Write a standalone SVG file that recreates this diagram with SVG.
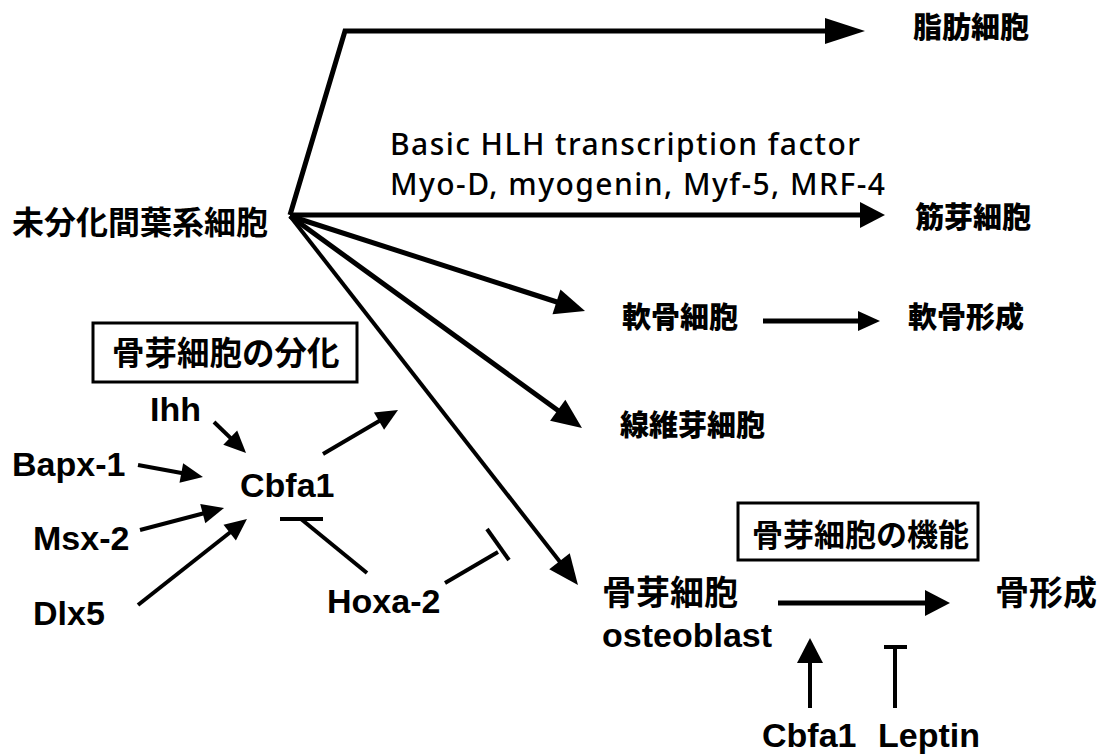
<svg xmlns="http://www.w3.org/2000/svg" width="1104" height="756" viewBox="0 0 1104 756">
<style>
.jp{font-family:"Noto Sans CJK JP","Noto Sans CJK SC",sans-serif;fill:#000}
.jb{font-weight:900}
.jm{font-weight:700}
.en{font-family:"Liberation Sans",Arial,sans-serif;font-weight:700;font-size:34px;fill:#000}
.hlh{font-family:"Noto Sans","Open Sans",sans-serif;font-size:30px;font-weight:500;fill:#000}
.ln{fill:none;stroke:#000;stroke-linejoin:miter}
.w5{stroke-width:5}
.w4{stroke-width:4}
.box{fill:#fff;stroke:#000;stroke-width:3}
</style>
<defs>
<marker id="big" markerUnits="userSpaceOnUse" markerWidth="40" markerHeight="26" refX="30" refY="13" orient="auto" overflow="visible"><path d="M0,0 L40,13 L0,26 Z" fill="#000"/></marker>
<marker id="med" markerUnits="userSpaceOnUse" markerWidth="30" markerHeight="26" refX="20" refY="13" orient="auto" overflow="visible"><path d="M0,0 L30,13 L0,26 Z" fill="#000"/></marker>
<marker id="hz" markerUnits="userSpaceOnUse" markerWidth="25" markerHeight="26" refX="15" refY="13" orient="auto" overflow="visible"><path d="M0,0 L25,13 L0,26 Z" fill="#000"/></marker>
<marker id="sm" markerUnits="userSpaceOnUse" markerWidth="22" markerHeight="20" refX="14" refY="10" orient="auto" overflow="visible"><path d="M0,0 L22,10 L0,20 Z" fill="#000"/></marker>
</defs>

<g id="connectors">
<path class="ln w5" d="M290,215 L345,31 L855,31" marker-end="url(#big)"/>
<path class="ln w5" d="M290,215 L875,215" marker-end="url(#hz)"/>
<path class="ln w5" d="M290,216 L575.5,308" marker-end="url(#med)"/>
<path class="ln w5" d="M290,216 L573.9,422.1" marker-end="url(#med)"/>
<path class="ln w4" d="M290,216 L571.8,577.1" marker-end="url(#med)"/>
<path class="ln w5" d="M763,321 L872,321" marker-end="url(#sm)"/>
<path class="ln w5" d="M778,603 L940,603" marker-end="url(#hz)"/>
<path class="ln w4" d="M810,708 L810,648" marker-end="url(#hz)"/>
<path class="ln w4" d="M895,708 L895,647"/>
<path class="ln w4" d="M884,647 L907,647"/>
<path class="ln w4" d="M214,422 L240.3,447.4" marker-end="url(#sm)"/>
<path class="ln w4" d="M138,465 L195.1,475.5" marker-end="url(#sm)"/>
<path class="ln w4" d="M140,530 L216.3,510" marker-end="url(#sm)"/>
<path class="ln w4" d="M138,605 L240.7,524" marker-end="url(#sm)"/>
<path class="ln w4" d="M323,454 L391.1,414" marker-end="url(#sm)"/>
<path class="ln w4" d="M280,519 L323,519"/>
<path class="ln w4" d="M301,519 L367,573"/>
<path class="ln w4" d="M445,583 L498,552"/>
<path class="ln w4" d="M487,529 L509,560"/>
</g>

<g id="mesenchymal"><text class="jp jm" x="12" y="234" font-size="32">未分化間葉系細胞</text></g>
<g id="adipocyte"><text class="jp jb" x="913" y="38" font-size="29">脂肪細胞</text></g>
<g id="hlh-label">
<text class="hlh" x="390" y="155" textLength="470" lengthAdjust="spacing">Basic HLH transcription factor</text>
<text class="hlh" x="390" y="195" textLength="495" lengthAdjust="spacing">Myo-D, myogenin, Myf-5, MRF-4</text>
</g>
<g id="myoblast"><text class="jp jb" x="915" y="228" font-size="29">筋芽細胞</text></g>
<g id="chondrocyte"><text class="jp jb" x="622" y="328" font-size="29">軟骨細胞</text></g>
<g id="chondrogenesis"><text class="jp jb" x="908" y="328" font-size="29">軟骨形成</text></g>
<g id="fibroblast"><text class="jp jb" x="620" y="436" font-size="29">線維芽細胞</text></g>
<g id="osteoblast">
<text class="jp jm" x="602" y="605" font-size="34">骨芽細胞</text>
<text class="en" x="602" y="647">osteoblast</text>
</g>
<g id="bone-formation"><text class="jp jm" x="995" y="605" font-size="34">骨形成</text></g>
<g id="function-box">
<rect class="box" x="738" y="503" width="240" height="57"/>
<text class="jp jm" x="752" y="546" font-size="31">骨芽細胞の機能</text>
</g>
<g id="differentiation-box">
<rect class="box" x="93" y="323" width="264" height="59"/>
<text class="jp jm" x="112" y="365" font-size="32.5">骨芽細胞の分化</text>
</g>
<g id="ihh"><text class="en" x="150" y="421">Ihh</text></g>
<g id="bapx1"><text class="en" x="12" y="476">Bapx-1</text></g>
<g id="cbfa1"><text class="en" x="240" y="497">Cbfa1</text></g>
<g id="msx2"><text class="en" x="33" y="550">Msx-2</text></g>
<g id="dlx5"><text class="en" x="33" y="625">Dlx5</text></g>
<g id="hoxa2"><text class="en" x="327" y="613">Hoxa-2</text></g>
<g id="cbfa1-bottom"><text class="en" x="762" y="747" font-size="33">Cbfa1</text></g>
<g id="leptin"><text class="en" x="878" y="747" font-size="33">Leptin</text></g>
</svg>
